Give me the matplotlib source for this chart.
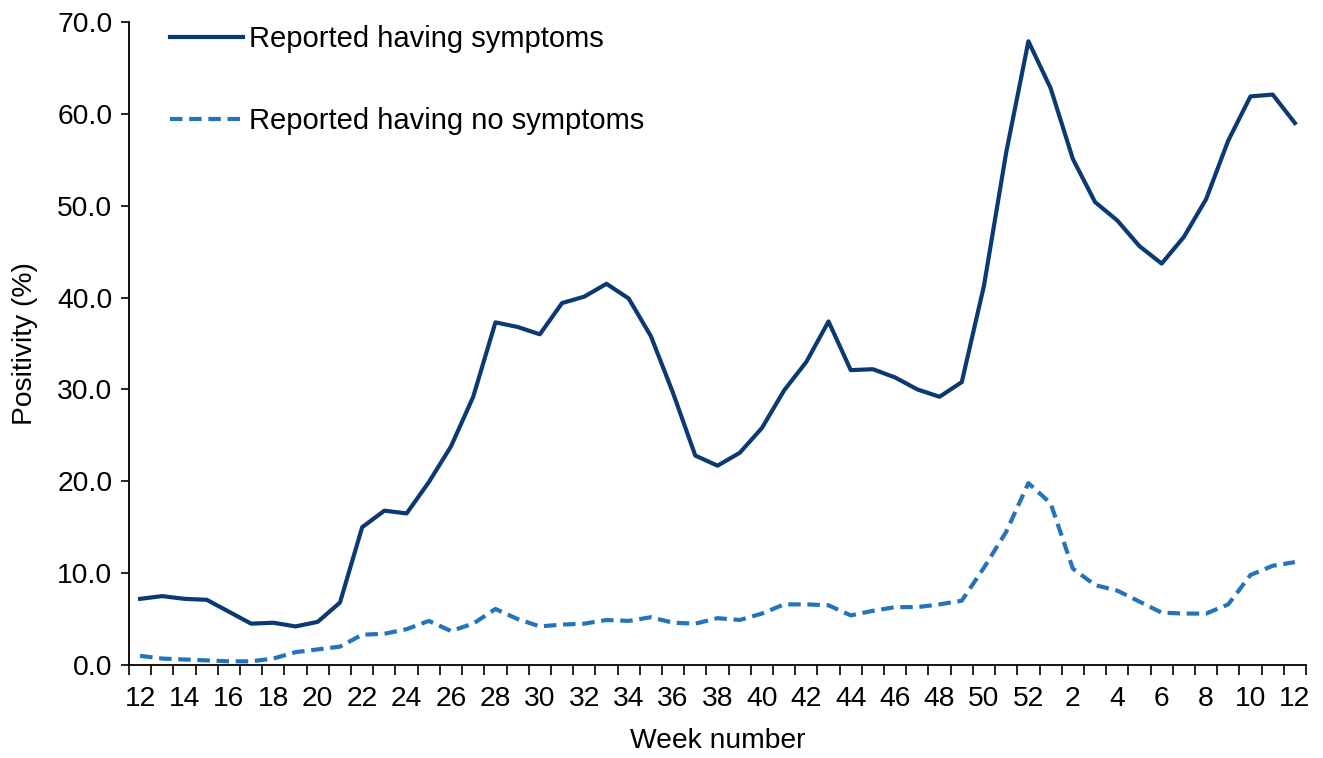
import matplotlib
matplotlib.use("Agg")
import matplotlib.pyplot as plt
from matplotlib.ticker import FixedLocator, FixedFormatter

plt.rcParams['font.family'] = ['Liberation Sans', 'DejaVu Sans']

weeks = list(range(12, 53)) + list(range(1, 13))

symptoms = [7.2, 7.5, 7.2, 7.1, 5.8, 4.5, 4.6, 4.2, 4.7, 6.8,
            15.0, 16.8, 16.5, 19.9, 23.8, 29.2, 37.3, 36.8, 36.0, 39.4,
            40.1, 41.5, 39.9, 35.8, 29.6, 22.8, 21.7, 23.1, 25.8, 29.9,
            33.0, 37.4, 32.1, 32.2, 31.3, 30.0, 29.2, 30.8, 41.3, 55.8,
            67.9, 62.8, 55.1, 50.4, 48.4, 45.6, 43.7, 46.6, 50.7, 57.1,
            61.9, 62.1, 59.0]

no_symptoms = [1.0, 0.7, 0.6, 0.5, 0.4, 0.4, 0.7, 1.4, 1.7, 2.0,
               3.3, 3.4, 3.9, 4.8, 3.7, 4.5, 6.1, 5.0, 4.2, 4.4,
               4.5, 4.9, 4.8, 5.2, 4.6, 4.5, 5.1, 4.9, 5.6, 6.6,
               6.6, 6.5, 5.4, 5.9, 6.3, 6.3, 6.6, 7.0, 10.6, 14.5,
               19.8, 17.6, 10.5, 8.7, 8.1, 6.9, 5.7, 5.6, 5.6, 6.6,
               9.8, 10.8, 11.2]

y_ticks = [0, 10, 20, 30, 40, 50, 60, 70]

FS = 20.3
FS_LEG = 21
fig = plt.figure(figsize=(13.23, 7.58), dpi=100)
ax = fig.add_axes([129/1323, 1 - 665/758, (1306 - 129)/1323, (665 - 22)/758])

x = list(range(len(weeks)))
ax.plot(x, symptoms, color='#0B3A73', lw=3.0, label='Reported having symptoms',
        solid_joinstyle='round')
ax.plot(x, no_symptoms, color='#2574BA', lw=3.0, dashes=(3.0, 1.6),
        label='Reported having no symptoms')

ax.set_xlim(-0.5, len(weeks) - 0.5)
ax.set_ylim(0, 70)

label_pos = x[::2]
ax.xaxis.set_major_locator(FixedLocator(label_pos))
ax.xaxis.set_major_formatter(FixedFormatter([str(weeks[i]) for i in label_pos]))
ax.xaxis.set_minor_locator(FixedLocator([i - 0.5 for i in range(len(weeks) + 1)]))
ax.tick_params(axis='x', which='major', length=0, pad=15, labelsize=FS)
ax.tick_params(axis='x', which='minor', length=7, width=1.2, direction='out')

ax.set_yticks(y_ticks)
ax.set_yticklabels([f"{v:.1f}" for v in y_ticks])
ax.tick_params(axis='y', length=6, width=1.2, direction='out', labelsize=FS, pad=6)

for s in ['top', 'right']:
    ax.spines[s].set_visible(False)
for s in ['left', 'bottom']:
    ax.spines[s].set_linewidth(1.3)
    ax.spines[s].set_color('black')

ax.set_xlabel('Week number', fontsize=FS, labelpad=12)
ax.set_ylabel('Positivity (%)', fontsize=FS, labelpad=14)

leg = ax.legend(loc='upper left', bbox_to_anchor=(0.035, 0.995), frameon=False,
                fontsize=FS_LEG, handlelength=2.5, handletextpad=0.2,
                labelspacing=1.85, borderpad=0, borderaxespad=0)

fig.savefig('out.png', dpi=100)
